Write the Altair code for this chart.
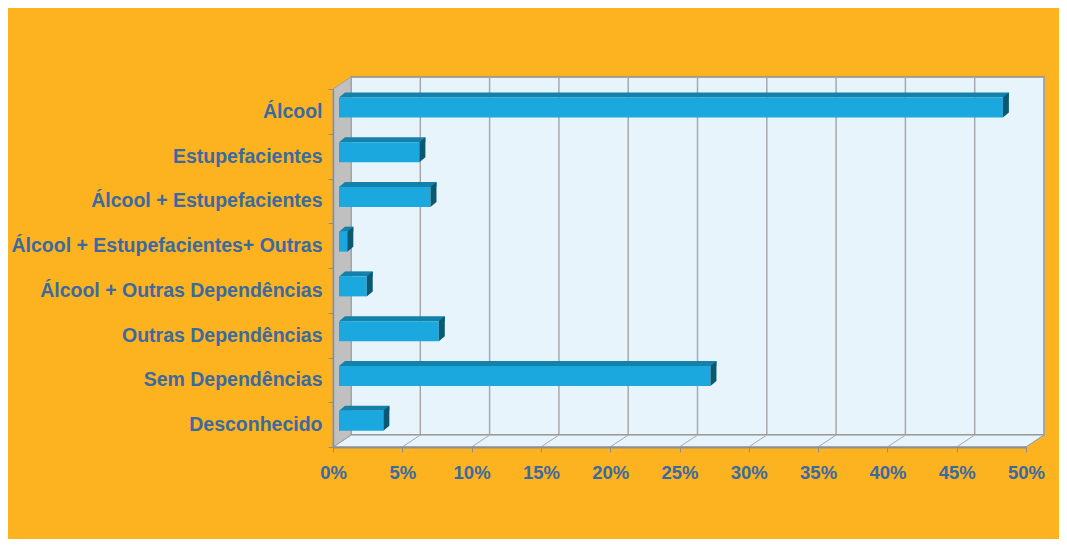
import altair as alt
import pandas as pd

# ---- data ----
categories = [
    "Álcool",
    "Estupefacientes",
    "Álcool + Estupefacientes",
    "Álcool + Estupefacientes+ Outras",
    "Álcool + Outras Dependências",
    "Outras Dependências",
    "Sem Dependências",
    "Desconhecido",
]
values = [0.479, 0.058, 0.066, 0.006, 0.020, 0.072, 0.268, 0.032]
tick_values = [0.0, 0.05, 0.10, 0.15, 0.20, 0.25, 0.30, 0.35, 0.40, 0.45, 0.50]

# ---- styling ----
W, H = 693, 358          # plot area (front face of the 3-D box)
DX, DY = 18, -12         # depth offset of the back wall
ORANGE = "#FDB220"
WALL = "#E8F4FC"
SIDEWALL = "#C0C0C0"
EDGE = "#8E8E8E"
GRID = "#A8A8A8"
FRONT = "#1AA8DE"
TOP = "#1381AA"
SIDE = "#0B5873"
TXT = "#3A6AA0"
FONT = "Liberation Sans"

df = pd.DataFrame({"cat": categories, "val": values})
ticks = pd.DataFrame({"t": tick_values})
frame = pd.DataFrame({"lo": [tick_values[0]], "hi": [tick_values[-1]]})

xscale = alt.Scale(domain=[tick_values[0], tick_values[-1]], nice=False, zero=True)
yscale = alt.Scale(type="band", domain=categories, paddingInner=0, paddingOuter=0)

X_ = lambda f: alt.X(f, scale=xscale, title=None)
Y_ = alt.Y("cat:N", scale=yscale, sort=categories, title=None)

# back wall
back = alt.Chart(frame).mark_rect(
    fill=WALL, stroke=EDGE, strokeWidth=1.5,
    xOffset=DX, x2Offset=DX, yOffset=DY, y2Offset=DY,
).encode(x=X_("lo:Q"), x2="hi:Q", y=alt.value(0), y2=alt.value("height"))

# vertical gridlines on back wall
grid = alt.Chart(ticks).mark_rule(
    color=GRID, strokeWidth=1.5, xOffset=DX, yOffset=DY, y2Offset=DY,
).encode(x=X_("t:Q"), y=alt.value(0), y2=alt.value("height"))

# floor
floor_path = f"M0,0 L{W},0 L{W + DX},{DY} L{DX},{DY} Z"
floor = alt.Chart(frame).mark_point(
    shape=floor_path, size=4, filled=True, fill=WALL, stroke=EDGE,
    strokeWidth=1, opacity=1,
).encode(x=X_("lo:Q"), y=alt.value(H))

# slanted floor lines
floor_lines = alt.Chart(ticks).mark_rule(
    color=GRID, strokeWidth=1, x2Offset=DX,
).encode(x=X_("t:Q"), x2="t:Q", y=alt.value(H), y2=alt.value(H + DY))

# left side wall
wall_path = f"M0,0 L{DX},{DY} L{DX},{H + DY} L0,{H} Z"
left_wall = alt.Chart(frame).mark_point(
    shape=wall_path, size=4, filled=True, fill=SIDEWALL, stroke="#A0A0A0",
    strokeWidth=1, opacity=1,
).encode(x=X_("lo:Q"), y=alt.value(0))

# bars: top face, left corner of top face, front face, side face
bar_top = alt.Chart(df).mark_bar(
    size=5, fill=TOP, xOffset=12, x2Offset=12, yOffset=-16.5,
).encode(x=X_("val:Q"), y=Y_)

bar_corner = alt.Chart(df).transform_calculate(zero="0").mark_point(
    shape="M0,-10 L6,-10 L6,-15 Z", size=4, filled=True, fill=TOP,
    strokeWidth=0, opacity=1, xOffset=6, yOffset=-4,
).encode(x=X_("zero:Q"), y=Y_)

bar_front = alt.Chart(df).mark_bar(
    size=20, fill=FRONT, xOffset=6, x2Offset=6, yOffset=-4,
).encode(
    x=alt.X(
        "val:Q", scale=xscale, title=None,
        axis=alt.Axis(
            title=None, values=tick_values, format=".0%", grid=False,
            labelFont=FONT, labelFontSize=18.5, labelFontWeight="bold",
            labelColor=TXT, labelPadding=11, tickSize=5, tickColor=EDGE,
            domainColor=EDGE, domainWidth=2, zindex=1,
            labelFlush=False, labelOverlap=False,
        ),
    ),
    y=alt.Y(
        "cat:N", scale=yscale, sort=categories, title=None,
        axis=alt.Axis(
            title=None, labelFont=FONT, labelFontSize=19.5, labelFontWeight="bold",
            labelColor=TXT, labelPadding=6, tickSize=5, tickColor=EDGE,
            tickBand="extent", domainColor=EDGE, domainWidth=1.5, zindex=1,
            labelLimit=400, grid=False,
        ),
    ),
)

bar_side = alt.Chart(df).mark_point(
    shape="M0,-10 L6,-15 L6,5 L0,10 Z", size=4, filled=True, fill=SIDE,
    strokeWidth=0, opacity=1, xOffset=6, yOffset=-4,
).encode(x=X_("val:Q"), y=Y_)

chart = alt.layer(
    back, grid, floor, floor_lines, left_wall,
    bar_top, bar_corner, bar_front, bar_side,
).properties(
    width=W, height=H,
    autosize=alt.AutoSizeParams(type="none"),
    padding={"left": 325, "top": 81, "right": 33, "bottom": 92},
    background=ORANGE,
).configure_view(stroke=None).configure_axis(grid=False)

chart.save("out.html", embed_options={"renderer": "svg", "actions": False})
